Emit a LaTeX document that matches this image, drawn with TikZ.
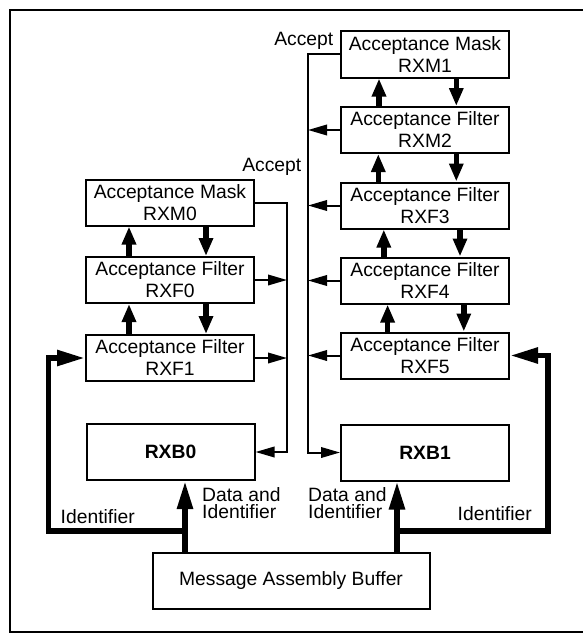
\documentclass[tikz,border=0pt]{standalone}
\usepackage{fontspec}
\setmainfont{Liberation Sans}
\usetikzlibrary{arrows.meta}
\begin{document}
\begin{tikzpicture}[x=1pt,y=-1pt,
  box/.style={draw, line width=2pt, minimum width=168pt, minimum height=46pt, inner sep=0pt, align=center, font=\fontsize{19.3}{22}\selectfont},
  bigbox/.style={box, minimum height=56pt},
  lbl/.style={inner sep=0pt, font=\fontsize{19.3}{17.7}\selectfont},
  thinarr/.style={line width=2pt, -{Triangle[length=19pt,width=10.5pt]}},
  medarr/.style={line width=5.5pt, -{Triangle[length=18pt,width=13.5pt]}},
  bigarr/.style={line width=5.5pt, -{Triangle[length=28pt,width=15pt]}},
  frame/.style={line width=2pt}
]
\useasboundingbox (0,0) rectangle (583,634);
\draw[frame] (584,10) -- (10,10) -- (10,632) -- (584,632);

% right column
\node[box] (RXM1) at (425,54.5) {Acceptance Mask\\RXM1};
\node[box] (RXM2) at (425,130) {Acceptance Filter\\RXM2};
\node[box] (RXF3) at (425,205.5) {Acceptance Filter\\RXF3};
\node[box] (RXF4) at (425,280.5) {Acceptance Filter\\RXF4};
\node[box] (RXF5) at (425,355.5) {Acceptance Filter\\RXF5};
\node[bigbox] (RXB1) at (425,452.5) {\bfseries RXB1};
% left column
\node[box] (RXM0) at (170,202.5) {Acceptance Mask\\RXM0};
\node[box] (RXF0) at (170,280) {Acceptance Filter\\RXF0};
\node[box] (RXF1) at (170,358) {Acceptance Filter\\RXF1};
\node[bigbox] (RXB0) at (170.5,452) {\bfseries RXB0};
\node[box, minimum width=277pt, minimum height=56pt] (MAB) at (291,581) {Message Assembly Buffer};

% labels
\node[lbl, anchor=base east] (acc1) at (333.5,46) {Accept};
\node[lbl, anchor=base east] (acc2) at (301.5,171.5) {Accept};
\node[lbl, anchor=north west, align=left] (dl) at (202,487) {Data and\\Identifier};
\node[lbl, anchor=north west, align=left] (dr) at (308,487) {Data and\\Identifier};
\node[lbl, anchor=base west] (idl) at (60.5,523.3) {Identifier};
\node[lbl, anchor=base west] (idr) at (457.5,520.7) {Identifier};

% accept lines
\coordinate (accL) at (287,0);
\coordinate (accR) at (308,0);
\draw[thinarr] (RXM0.east) -| (accL |- RXB0.east) -- (RXB0.east);
\draw[thinarr] (RXF0.east) -- (accL |- RXF0.east);
\draw[thinarr] (RXF1.east) -- (accL |- RXF1.east);
\draw[thinarr] (RXM1.west) -| (accR |- RXB1.west) -- (RXB1.west);
\draw[thinarr] (RXM2.west) -- (accR |- RXM2.west);
\draw[thinarr] (RXF3.west) -- (accR |- RXF3.west);
\draw[thinarr] (RXF4.west) -- (accR |- RXF4.west);
\draw[thinarr] (RXF5.west) -- (accR |- RXF5.west);

% up/down arrows left
\draw[medarr] ([xshift=44pt]RXF0.north west) -- ([xshift=44pt]RXM0.south west);
\draw[medarr] ([xshift=121pt]RXM0.south west) -- ([xshift=121pt]RXF0.north west);
\draw[medarr] ([xshift=44pt]RXF1.north west) -- ([xshift=44pt]RXF0.south west);
\draw[medarr] ([xshift=121pt]RXF0.south west) -- ([xshift=121pt]RXF1.north west);
% up/down arrows right
\draw[medarr] ([xshift=39pt]RXM2.north west) -- ([xshift=39pt]RXM1.south west);
\draw[medarr] ([xshift=116.3pt]RXM1.south west) -- ([xshift=116.3pt]RXM2.north west);
\draw[medarr] ([xshift=38.3pt]RXF3.north west) -- ([xshift=38.3pt]RXM2.south west);
\draw[medarr] ([xshift=116.3pt]RXM2.south west) -- ([xshift=116.3pt]RXF3.north west);
\draw[medarr] ([xshift=43.8pt]RXF4.north west) -- ([xshift=43.8pt]RXF3.south west);
\draw[medarr] ([xshift=120pt]RXF3.south west) -- ([xshift=120pt]RXF4.north west);
\draw[medarr] ([xshift=47.6pt]RXF5.north west) -- ([xshift=47.6pt]RXF4.south west);
\draw[medarr] ([xshift=123.8pt]RXF4.south west) -- ([xshift=123.8pt]RXF5.north west);

% data and identifier paths
\coordinate (dL) at (185,531);
\coordinate (dR) at (397,531);
\coordinate (iL) at (48.3,531);
\coordinate (iR) at (548,531);
\draw[bigarr] (MAB.north -| dL) -- (RXB0.south -| dL);
\draw[bigarr] (dL) -- (iL) |- (RXF1.west);
\draw[bigarr] (MAB.north -| dR) -- (RXB1.south -| dR);
\draw[bigarr] (dR) -- (iR) |- (RXF5.east);
\end{tikzpicture}
\end{document}
